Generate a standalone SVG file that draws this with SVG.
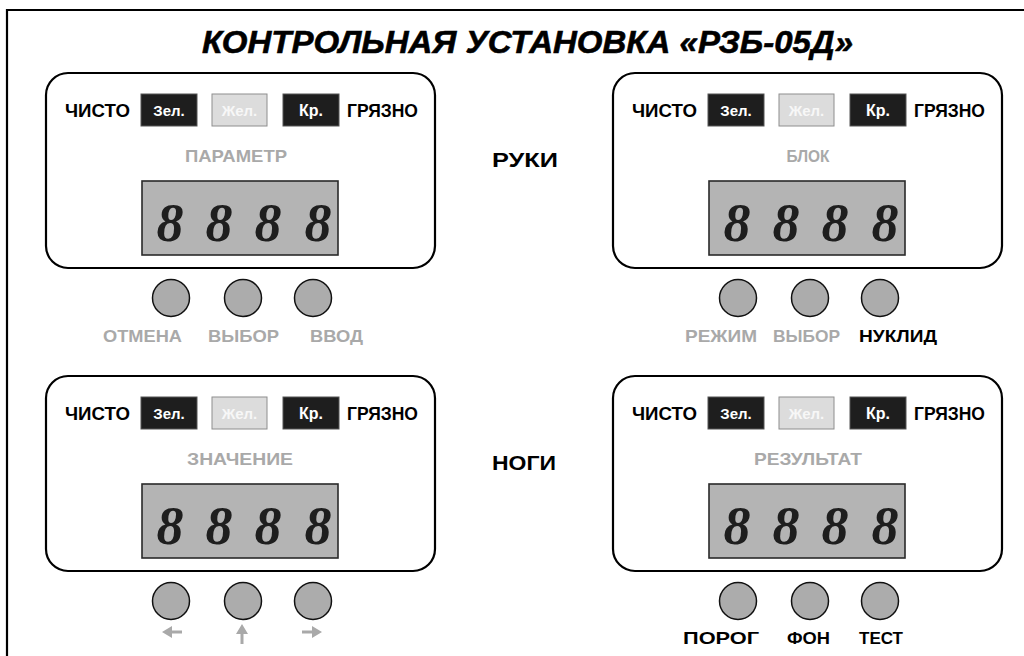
<svg xmlns="http://www.w3.org/2000/svg" width="1024" height="656" viewBox="0 0 1024 656">
<style>
.frame{fill:#fff;stroke:#000;stroke-width:2.2}
.b{font-family:"Liberation Sans",Arial,sans-serif;font-weight:bold}
.blk{fill:#000}
.gry{fill:#a9a9a9}
.ind{font-size:15px;fill:#fff;text-anchor:middle}
.dark{fill:#1e1e1e;stroke:#555;stroke-width:1}
.light{fill:#dcdcdc;stroke:#8e8e8e;stroke-width:1}
.disp{fill:#b4b4b4;stroke:#2a2a2a;stroke-width:1.6}
.dig{font-family:"Liberation Serif","Times New Roman",serif;font-style:italic;font-size:54px;fill:#1e1e1e;text-anchor:middle}
.btn{fill:#acacac;stroke:#111;stroke-width:1.5}
.lbl{font-size:17px}
.arr{fill:#a9a9a9;stroke:none}
</style>
<defs>
<g id="panelBase">
<rect class="frame" x="46" y="73" width="389" height="195" rx="22" ry="22"/>
<text class="b blk" x="65" y="117" font-size="18.5" textLength="65" lengthAdjust="spacingAndGlyphs">ЧИСТО</text>
<rect class="dark" x="141" y="94" width="56" height="32"/>
<text class="b ind" x="169" y="116">Зел.</text>
<rect class="light" x="212" y="94" width="55" height="32"/>
<text class="b ind" x="239.5" y="116" style="fill:#f7f7f7">Жел.</text>
<rect class="dark" x="283" y="94" width="56" height="32"/>
<text class="b ind" x="311" y="116" style="font-size:16px">Кр.</text>
<text class="b blk" x="347" y="117" font-size="18.5" textLength="71" lengthAdjust="spacingAndGlyphs">ГРЯЗНО</text>
<rect class="disp" x="142" y="181" width="196" height="74"/>
<text class="dig" x="170" y="241" font-family="Liberation Serif" font-style="italic" font-weight="bold">8</text>
<text class="dig" x="219" y="241" font-family="Liberation Serif" font-style="italic" font-weight="bold">8</text>
<text class="dig" x="268" y="241" font-family="Liberation Serif" font-style="italic" font-weight="bold">8</text>
<text class="dig" x="318" y="241" font-family="Liberation Serif" font-style="italic" font-weight="bold">8</text>
</g>
<g id="buttons">
<circle class="btn" cx="171" cy="298" r="18.5"/>
<circle class="btn" cx="243" cy="298" r="18.5"/>
<circle class="btn" cx="313" cy="298" r="18.5"/>
</g>
</defs>

<g id="border">
<path d="M7,656 V10 H1024" fill="none" stroke="#000" stroke-width="2.2"/>
</g>

<g id="title">
<text class="b" x="202" y="53" font-size="32" font-style="italic" textLength="651" lengthAdjust="spacingAndGlyphs" fill="#000" stroke="#000" stroke-width="0.6">КОНТРОЛЬНАЯ  УСТАНОВКА  «РЗБ-05Д»</text>
</g>

<g id="label-ruki">
<text class="b blk" x="492" y="167" font-size="21" textLength="66" lengthAdjust="spacingAndGlyphs">РУКИ</text>
</g>
<g id="label-nogi">
<text class="b blk" x="492" y="470" font-size="21" textLength="64" lengthAdjust="spacingAndGlyphs">НОГИ</text>
</g>

<g id="panel-hands-left">
<use href="#panelBase"/>
<text class="b gry" x="236" y="162" font-size="17" text-anchor="middle" textLength="102" lengthAdjust="spacingAndGlyphs">ПАРАМЕТР</text>
</g>
<g id="buttons-hands-left">
<use href="#buttons"/>
<text class="b gry lbl" x="103" y="342" textLength="79" lengthAdjust="spacingAndGlyphs">ОТМЕНА</text>
<text class="b gry lbl" x="208" y="342" textLength="71" lengthAdjust="spacingAndGlyphs">ВЫБОР</text>
<text class="b gry lbl" x="310" y="342" textLength="53" lengthAdjust="spacingAndGlyphs">ВВОД</text>
</g>

<g id="panel-hands-right">
<use href="#panelBase" transform="translate(567,0)"/>
<text class="b gry" x="808" y="162" font-size="17" text-anchor="middle" textLength="43" lengthAdjust="spacingAndGlyphs">БЛОК</text>
</g>
<g id="buttons-hands-right">
<use href="#buttons" transform="translate(567,0)"/>
<text class="b gry lbl" x="685" y="342" textLength="72" lengthAdjust="spacingAndGlyphs">РЕЖИМ</text>
<text class="b gry lbl" x="773" y="342" textLength="67" lengthAdjust="spacingAndGlyphs">ВЫБОР</text>
<text class="b blk lbl" x="859" y="342" textLength="78" lengthAdjust="spacingAndGlyphs">НУКЛИД</text>
</g>

<g id="panel-feet-left">
<use href="#panelBase" transform="translate(0,303)"/>
<text class="b gry" x="240" y="465" font-size="17" text-anchor="middle" textLength="106" lengthAdjust="spacingAndGlyphs">ЗНАЧЕНИЕ</text>
</g>
<g id="buttons-feet-left">
<use href="#buttons" transform="translate(0,303)"/>
<path class="arr" d="M162,632 L172,626 L172,630.5 L182,630.5 L182,633.5 L172,633.5 L172,638 Z"/>
<path class="arr" d="M242,624 L248,634 L243.5,634 L243.5,644 L240.5,644 L240.5,634 L236,634 Z"/>
<path class="arr" d="M322,632 L312,626 L312,630.5 L302,630.5 L302,633.5 L312,633.5 L312,638 Z"/>
</g>

<g id="panel-feet-right">
<use href="#panelBase" transform="translate(567,303)"/>
<text class="b gry" x="808" y="465" font-size="17" text-anchor="middle" textLength="108" lengthAdjust="spacingAndGlyphs">РЕЗУЛЬТАТ</text>
</g>
<g id="buttons-feet-right">
<use href="#buttons" transform="translate(567,303)"/>
<text class="b blk lbl" x="683" y="644" textLength="76" lengthAdjust="spacingAndGlyphs">ПОРОГ</text>
<text class="b blk lbl" x="787" y="644" textLength="43" lengthAdjust="spacingAndGlyphs">ФОН</text>
<text class="b blk lbl" x="859" y="644" textLength="44" lengthAdjust="spacingAndGlyphs">ТЕСТ</text>
</g>
</svg>
